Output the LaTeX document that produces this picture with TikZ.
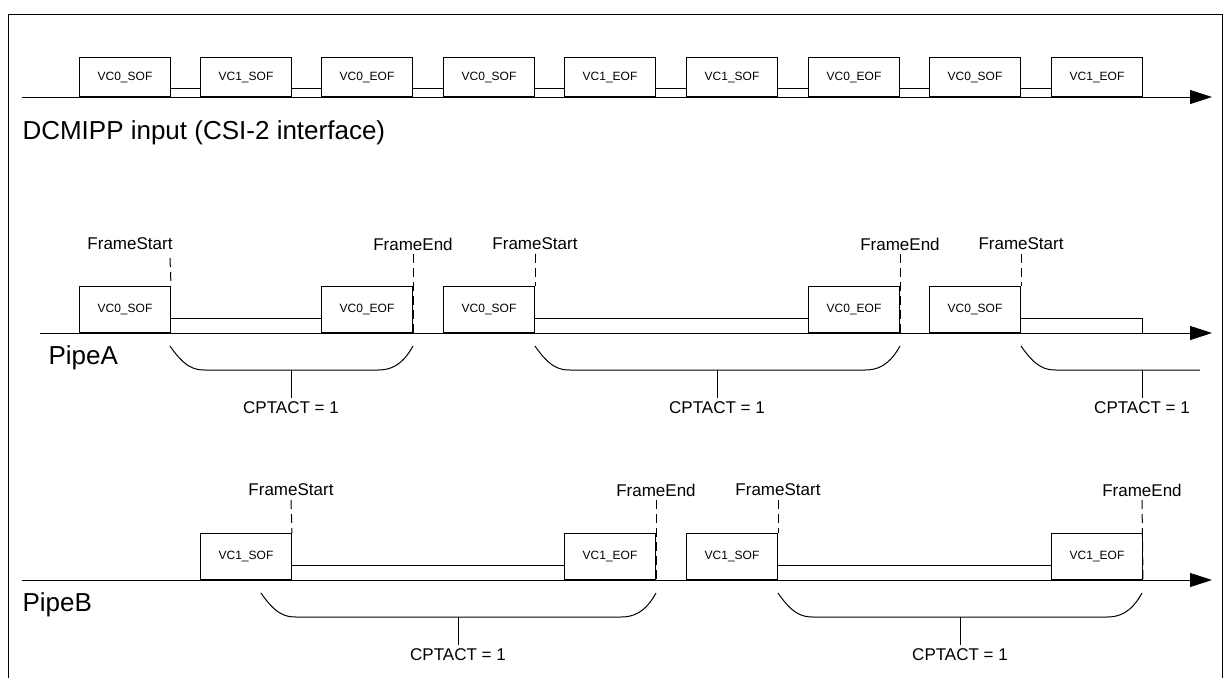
\documentclass[tikz,border=0pt]{standalone}
\usepackage{fontspec}
\setmainfont{Liberation Sans}
\usetikzlibrary{arrows.meta}
\begin{document}
\begin{tikzpicture}[x=1pt,y=-1pt,line width=1pt,
  box/.style={draw,fill=white,minimum width=91pt,anchor=south west,inner sep=0pt,font=\fontsize{12}{14}\selectfont},
  boxA/.style={box,minimum height=39pt},
  boxB/.style={box,minimum height=46pt},
  axis/.style={-{Triangle[length=22pt,width=14pt]}},
  lab/.style={font=\fontsize{17}{19}\selectfont},
  big/.style={font=\fontsize{26}{30}\selectfont,anchor=west,inner sep=0pt},
  dsh/.style={dash pattern=on 9pt off 5pt}]
\useasboundingbox (0,0) rectangle (1232,678);
\draw (8,678) -- (8,14) -- (1222,14) -- (1222,678);
% row 1
\coordinate (a0) at (22,97); \coordinate (a1) at (1212,97);
\draw[axis] (a0) -- (a1);
\foreach \x/\t [count=\i] in {79/VC0\_SOF,200/VC1\_SOF,321/VC0\_EOF,443/VC0\_SOF,564/VC1\_EOF,686/VC1\_SOF,808/VC0\_EOF,929/VC0\_SOF,1051/VC1\_EOF}
  \node[boxA] (r\i) at (\x,97) {\t};
\foreach \i [evaluate=\i as \j using int(\i+1)] in {1,...,8}
  \draw ([yshift=9pt]r\i.south east) -- ([yshift=9pt]r\j.south west);
\node[big] (din) at (22,133) {DCMIPP input (CSI-2 interface)};
% Pipe A
\coordinate (b0) at (40,333); \coordinate (b1) at (1212,333);
\draw[axis] (b0) -- (b1);
\node[boxB] (p1) at (79,333) {VC0\_SOF};
\node[boxB] (p2) at (321,333) {VC0\_EOF};
\node[boxB] (p3) at (443,333) {VC0\_SOF};
\node[boxB] (p4) at (808,333) {VC0\_EOF};
\node[boxB] (p5) at (929,333) {VC0\_SOF};
\draw ([yshift=15pt]p1.south east) -- ([yshift=15pt]p2.south west);
\draw ([yshift=15pt]p3.south east) -- ([yshift=15pt]p4.south west);
\coordinate (pe) at (1142,333);
\draw ([yshift=15pt]p5.south east) -| (pe);
\node[lab] (fs1) at (130,244) {FrameStart};
\node[lab] (fe1) at (413,244) {FrameEnd};
\node[lab] (fs2) at (535,244) {FrameStart};
\node[lab] (fe2) at (900,244) {FrameEnd};
\node[lab] (fs3) at (1021,244) {FrameStart};
\draw[dsh] (170,258) -- (p1.north east);
\draw[dsh] (fe1.south) -- (p2.south east);
\draw[dsh] (fs2.south) -- (p3.north east);
\draw[dsh] (fe2.south) -- (p4.south east);
\draw[dsh] (fs3.south) -- (p5.north east);
\draw (170,346) .. controls (185,368) and (195,370) .. (205,370) -- (378,370) .. controls (390,370) and (402,366) .. (413,346);
\draw (535,346) .. controls (550,368) and (560,370) .. (570,370) -- (865,370) .. controls (877,370) and (889,366) .. (900,346);
\draw (1021,346) .. controls (1036,368) and (1046,370) .. (1056,370) -- (1200,370);
\node[lab] (c1) at (291,408) {CPTACT = 1};
\node[lab] (c2) at (717,408) {CPTACT = 1};
\node[lab] (c3) at (1142,408) {CPTACT = 1};
\draw (291,370) -- (c1.north);
\draw (717,370) -- (c2.north);
\draw (1142,370) -- (c3.north);
\node[big] (pa) at (48,358) {PipeA};
% Pipe B
\coordinate (c0) at (22,580); \coordinate (cx) at (1212,580);
\draw[axis] (c0) -- (cx);
\node[boxB] (q1) at (200,580) {VC1\_SOF};
\node[boxB] (q2) at (564,580) {VC1\_EOF};
\node[boxB] (q3) at (686,580) {VC1\_SOF};
\node[boxB] (q4) at (1051,580) {VC1\_EOF};
\draw ([yshift=15pt]q1.south east) -- ([yshift=15pt]q2.south west);
\draw ([yshift=15pt]q3.south east) -- ([yshift=15pt]q4.south west);
\node[lab] (gs1) at (291,490) {FrameStart};
\node[lab] (ge1) at (656,490) {FrameEnd};
\node[lab] (gs2) at (778,490) {FrameStart};
\node[lab] (ge2) at (1142,490) {FrameEnd};
\draw[dsh] (gs1.south) -- (q1.north east);
\draw[dsh] (ge1.south) -- (q2.south east);
\draw[dsh] (gs2.south) -- (q3.north east);
\draw[dsh] (ge2.south) -- (q4.south east);
\draw (261,593) .. controls (276,615) and (286,617) .. (296,617) -- (621,617) .. controls (633,617) and (645,613) .. (656,593);
\draw (778,593) .. controls (793,615) and (803,617) .. (813,617) -- (1107,617) .. controls (1119,617) and (1131,613) .. (1142,593);
\node[lab] (d1) at (458,655) {CPTACT = 1};
\node[lab] (d2) at (960,655) {CPTACT = 1};
\draw (458,617) -- (d1.north);
\draw (960,617) -- (d2.north);
\node[big] (pb) at (22,605) {PipeB};
\end{tikzpicture}
\end{document}
